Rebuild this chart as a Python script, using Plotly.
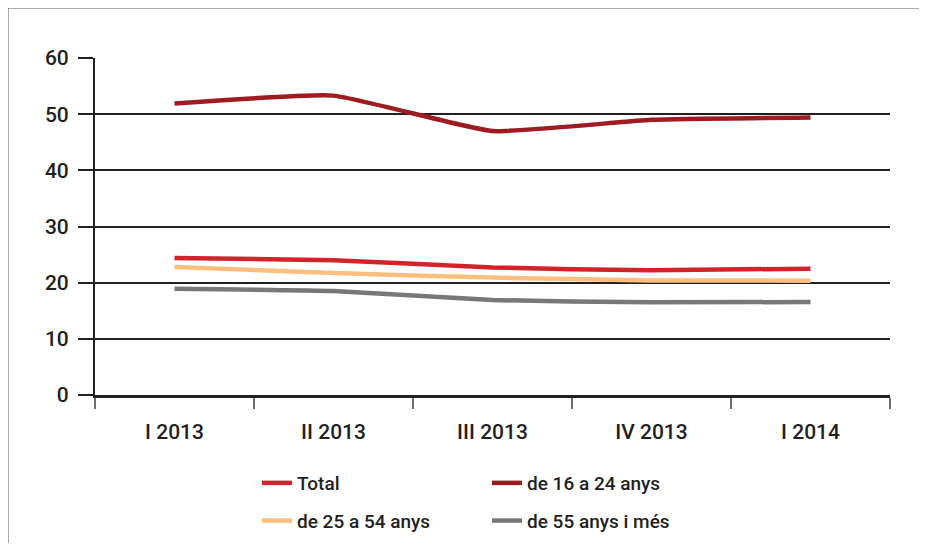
import plotly.graph_objects as go

categories = ["I 2013", "II 2013", "III 2013", "IV 2013", "I 2014"]
total = [24.4, 24.0, 22.7, 22.2, 22.5]
age_16_24 = [51.9, 53.3, 47.0, 49.0, 49.4]
age_25_54 = [22.8, 21.7, 20.9, 20.4, 20.35]
age_55_plus = [18.9, 18.5, 16.9, 16.5, 16.55]
y_ticks = [0, 10, 20, 30, 40, 50, 60]

FONT = "Roboto"
TXT = "#231f20"

fig = go.Figure()
series = [
    ("Total", total, "#d2232a", "legend"),
    ("de 16 a 24 anys", age_16_24, "#9e1b21", "legend2"),
    ("de 25 a 54 anys", age_25_54, "#fdbe80", "legend"),
    ("de 55 anys i més", age_55_plus, "#78787b", "legend2"),
]
for i, (name, vals, col, lg) in enumerate(series):
    fig.add_trace(go.Scatter(
        x=categories, y=vals, name=name, mode="lines",
        line=dict(color=col, width=4.5, shape="spline", smoothing=0.4),
        legend=lg, legendgroup=f"g{i}",
    ))

# page body has an 8px margin
OFF = 8
W, H = 919, 535
L, T = 87, 50
PW, PH = 795, 337
R, B = W - L - PW, H - T - PH

# helpers in screen coordinates (plot area spans x 95..890, y 58..395 on screen)
def px(xs):
    return (xs - 95) / PW

def py(ys):
    return (395 - ys) / PH

def cx(xs):
    return (xs - OFF) / W

def cy(ys):
    return 1 - (ys - OFF) / H

legend_common = dict(
    orientation="v", bgcolor="rgba(0,0,0,0)", tracegroupgap=10,
    font=dict(family=FONT, size=19, color=TXT, weight=500),
    yanchor="middle", xanchor="left", xref="container", yref="container",
)

fig.update_layout(
    width=W, height=H,
    margin=dict(l=L, r=R, t=T, b=B, autoexpand=False),
    paper_bgcolor="white", plot_bgcolor="white",
    showlegend=True,
    legend=dict(x=cx(257), y=cy(502), **legend_common),
    legend2=dict(x=cx(487), y=cy(502), **legend_common),
    xaxis=dict(
        type="category", tickson="boundaries", ticks="outside", ticklen=11,
        tickcolor="#6d6e70", tickwidth=1.5,
        showline=True, linecolor="#231f20", linewidth=3,
        showgrid=False, tickfont=dict(family=FONT, size=21, color=TXT, weight=500),
        ticklabelstandoff=16, range=[-0.5, 4.5],
    ),
    yaxis=dict(
        range=[0, 60], tickvals=y_ticks, ticks="outside", ticklen=15,
        tickcolor="#231f20", tickwidth=1.5,
        showline=True, linecolor="#231f20", linewidth=2,
        showgrid=True, gridcolor="#231f20", gridwidth=1.5,
        zeroline=False, tickfont=dict(family=FONT, size=21, color=TXT, weight=500),
        ticklabelstandoff=5,
    ),
    shapes=[dict(
        type="rect", xref="paper", yref="paper",
        x0=px(7.5), x1=px(960), y0=py(600), y1=py(7.5),
        line=dict(color="#58595b", width=2), fillcolor="rgba(0,0,0,0)",
        layer="below",
    )],
)

fig.write_html(
    "out.html",
    post_script="document.documentElement.style.overflow='hidden';document.body.style.overflow='hidden';",
)
